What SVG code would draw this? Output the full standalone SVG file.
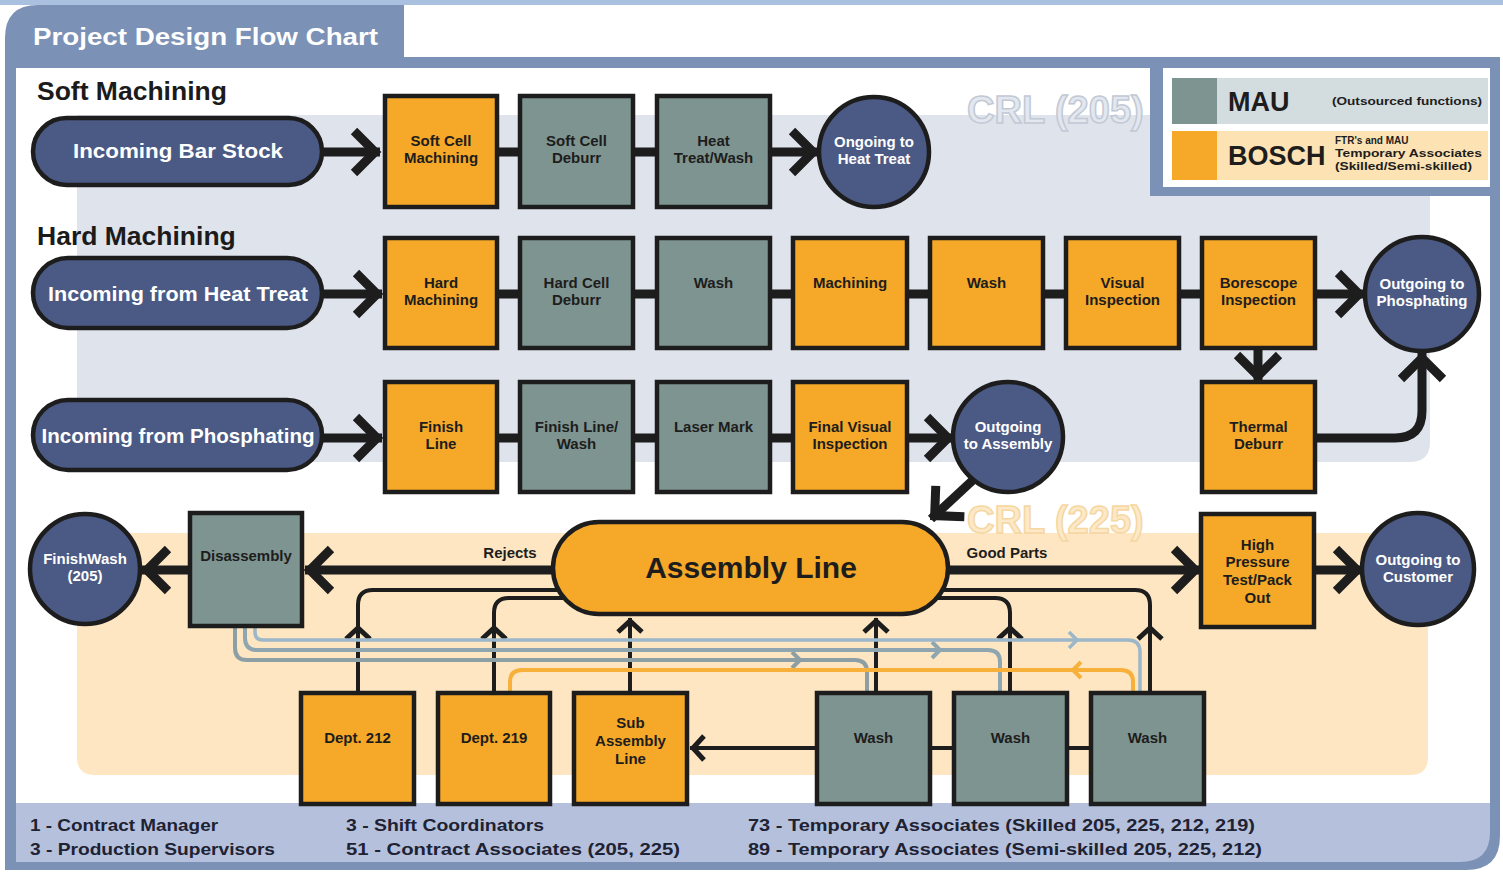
<svg xmlns="http://www.w3.org/2000/svg" width="1503" height="872" viewBox="0 0 1503 872">
<defs>
<style>
.box{stroke:#1d1d1d;stroke-width:4.5}
.or{fill:#f6a828}
.gr{fill:#7e9490}
.nv{fill:#4b5a84;stroke:#1d1d1d;stroke-width:4.5}
text{font-family:"Liberation Sans",Arial,sans-serif;font-weight:bold}
.bt{font-size:15px;fill:#1d1d1d;text-anchor:middle}
.wt{font-size:15px;fill:#ffffff;text-anchor:middle}
.pt{font-size:21px;fill:#ffffff;text-anchor:middle}
.hd{font-size:26.5px;fill:#1b1b1b}
.thick{fill:none;stroke:#1d1d1d;stroke-width:9}
.thin{fill:none;stroke:#1d1d1d;stroke-width:4}
.bA{fill:none;stroke:#8c9fa5;stroke-width:4}
.bB{fill:none;stroke:#8fa6b1;stroke-width:4}
.bC{fill:none;stroke:#9cb7c9;stroke-width:3.5}
.org{fill:none;stroke:#f7b03a;stroke-width:4}
.ft{font-size:17px;fill:#1e2232}
.lg{font-size:10px;fill:#1d1d1d}
</style>
<marker id="aB" markerUnits="userSpaceOnUse" orient="auto" overflow="visible" markerWidth="10" markerHeight="10" refX="0" refY="0">
<path d="M-26,-21 L-5,0 L-26,21" fill="none" stroke="#1d1d1d" stroke-width="9"/>
</marker>
<marker id="aS" markerUnits="userSpaceOnUse" orient="auto" overflow="visible" markerWidth="10" markerHeight="10" refX="0" refY="0">
<path d="M-14,-12 L-3,0 L-14,12" fill="none" stroke="#1d1d1d" stroke-width="5"/>
</marker>
</defs>

<g id="frame">
<rect x="0" y="0" width="1503" height="872" fill="#ffffff"/>
<rect x="0" y="0" width="1503" height="5" fill="#a9c0df"/>
<path d="M5,38 Q5,5 38,5 H404 V57 H1500 V836 Q1500,870 1466,870 H5 Z" fill="#7b92b6"/>
<rect x="16" y="68" width="1474" height="735" fill="#ffffff"/>
<path d="M16,803 H1490 V832 Q1490,862 1460,862 H16 Z" fill="#b5c0dc"/>
<text x="33" y="45" font-size="24" fill="#ffffff" textLength="345" lengthAdjust="spacingAndGlyphs">Project Design Flow Chart</text>
</g>

<g id="regions">
<path d="M77,115 H1430 V442 Q1430,462 1410,462 H77 Z" fill="#dfe3ec"/>
<path d="M77,533 H1428 V757 Q1428,775 1410,775 H95 Q77,775 77,757 Z" fill="#fde6c1"/>
<text x="967" y="123" font-size="38" fill="#e3e7ef" stroke="#c2c9d5" stroke-width="1.5">CRL (205)</text>
<text x="967" y="533" font-size="38" fill="#fde9c8" stroke="#f5d7a2" stroke-width="1.5">CRL (225)</text>
<text class="hd" x="37" y="100">Soft Machining</text>
<text class="hd" x="37" y="245">Hard Machining</text>
</g>

<g id="connectors">
<path class="thick" d="M322,152 H380" marker-end="url(#aB)"/>
<path class="thick" d="M497,152 H520 M633,152 H657"/>
<path class="thick" d="M770,152 H818" marker-end="url(#aB)"/>
<path class="thick" d="M322,294 H382" marker-end="url(#aB)"/>
<path class="thick" d="M497,294 H520 M633,294 H657 M770,294 H793 M907,294 H930 M1043,294 H1066 M1179,294 H1202"/>
<path class="thick" d="M1315,294 H1364" marker-end="url(#aB)"/>
<path class="thick" d="M322,438 H382" marker-end="url(#aB)"/>
<path class="thick" d="M497,438 H520 M633,438 H657 M770,438 H793"/>
<path class="thick" d="M907,438 H953" marker-end="url(#aB)"/>
<path class="thick" d="M1258,348 V381" marker-end="url(#aB)"/>
<path class="thick" d="M1315,438 H1395 Q1422,438 1422,411 V353" marker-end="url(#aB)"/>
<path class="thick" d="M973,480 L931,519" marker-end="url(#aB)"/>
<path class="thick" d="M555,570 H305" marker-end="url(#aB)"/>
<path class="thick" d="M190,570 H142" marker-end="url(#aB)"/>
<path class="thick" d="M946,570 H1200" marker-end="url(#aB)"/>
<path class="thick" d="M1314,570 H1362" marker-end="url(#aB)"/>

<path class="thin" d="M358,693 V625" marker-end="url(#aS)"/>
<path class="thin" d="M358,627 V605 Q358,590 373,590 H562"/>
<path class="thin" d="M494,693 V625" marker-end="url(#aS)"/>
<path class="thin" d="M494,627 V613 Q494,598 509,598 H567"/>
<path class="thin" d="M630,693 V618" marker-end="url(#aS)"/>
<path class="thin" d="M876,693 V618" marker-end="url(#aS)"/>
<path class="thin" d="M1010,693 V625" marker-end="url(#aS)"/>
<path class="thin" d="M1010,627 V613 Q1010,598 995,598 H935"/>
<path class="thin" d="M1150,693 V625" marker-end="url(#aS)"/>
<path class="thin" d="M1150,627 V605 Q1150,590 1135,590 H940"/>
<path class="thin" d="M820,748 H690" marker-end="url(#aS)"/>
<path class="thin" stroke-width="5" d="M930,748 H954 M1067,748 H1091"/>

<path class="bA" d="M235,627 V648 Q235,660 247,660 H855 Q867,660 867,672 V693"/>
<path class="bA" d="M792,652 L800,660 L792,668"/>
<path class="bB" d="M245,627 V638 Q245,650 257,650 H988 Q1000,650 1000,662 V693"/>
<path class="bB" d="M932,642 L940,650 L932,658"/>
<path class="bC" d="M255,627 V632 Q255,640 263,640 H1128 Q1140,640 1140,652 V693"/>
<path class="bC" d="M1069,632 L1077,640 L1069,648"/>
<path class="org" d="M1133,693 V682 Q1133,670 1121,670 H522 Q510,670 510,682 V693"/>
<path class="org" d="M1081,662 L1073,670 L1081,678"/>
</g>

<g id="n-bar-stock"><rect class="nv" x="33" y="118" width="289" height="67" rx="33.5"/><text class="pt" x="178" y="158" textLength="210" lengthAdjust="spacingAndGlyphs">Incoming Bar Stock</text></g>
<g id="n-soft-cell-machining"><rect class="box or" x="385" y="96" width="112" height="111"/><text class="bt" x="441" y="146">Soft Cell</text><text class="bt" x="441" y="163">Machining</text></g>
<g id="n-soft-cell-deburr"><rect class="box gr" x="520" y="96" width="113" height="111"/><text class="bt" x="576.5" y="146">Soft Cell</text><text class="bt" x="576.5" y="163">Deburr</text></g>
<g id="n-heat-treat-wash"><rect class="box gr" x="657" y="96" width="113" height="111"/><text class="bt" x="713.5" y="146">Heat</text><text class="bt" x="713.5" y="163">Treat/Wash</text></g>
<g id="n-ongoing-heat-treat"><circle class="nv" cx="874" cy="152" r="55"/><text class="wt" x="874" y="147">Ongoing to</text><text class="wt" x="874" y="164">Heat Treat</text></g>

<g id="n-from-heat-treat"><rect class="nv" x="33" y="258" width="289" height="70" rx="35"/><text class="pt" x="178" y="301" textLength="260" lengthAdjust="spacingAndGlyphs">Incoming from Heat Treat</text></g>
<g id="n-hard-machining"><rect class="box or" x="385" y="238" width="112" height="110"/><text class="bt" x="441" y="288">Hard</text><text class="bt" x="441" y="305">Machining</text></g>
<g id="n-hard-cell-deburr"><rect class="box gr" x="520" y="238" width="113" height="110"/><text class="bt" x="576.5" y="288">Hard Cell</text><text class="bt" x="576.5" y="305">Deburr</text></g>
<g id="n-wash-1"><rect class="box gr" x="657" y="238" width="113" height="110"/><text class="bt" x="713.5" y="288">Wash</text></g>
<g id="n-machining"><rect class="box or" x="793" y="238" width="114" height="110"/><text class="bt" x="850" y="288">Machining</text></g>
<g id="n-wash-2"><rect class="box or" x="930" y="238" width="113" height="110"/><text class="bt" x="986.5" y="288">Wash</text></g>
<g id="n-visual-inspection"><rect class="box or" x="1066" y="238" width="113" height="110"/><text class="bt" x="1122.5" y="288">Visual</text><text class="bt" x="1122.5" y="305">Inspection</text></g>
<g id="n-borescope"><rect class="box or" x="1202" y="238" width="113" height="110"/><text class="bt" x="1258.5" y="288">Borescope</text><text class="bt" x="1258.5" y="305">Inspection</text></g>
<g id="n-outgoing-phosphating"><circle class="nv" cx="1422" cy="294" r="57"/><text class="wt" x="1422" y="289">Outgoing to</text><text class="wt" x="1422" y="306">Phosphating</text></g>

<g id="n-from-phosphating"><rect class="nv" x="33" y="400" width="289" height="70" rx="35"/><text class="pt" x="178" y="443" textLength="273" lengthAdjust="spacingAndGlyphs">Incoming from Phosphating</text></g>
<g id="n-finish-line"><rect class="box or" x="385" y="382" width="112" height="110"/><text class="bt" x="441" y="432">Finish</text><text class="bt" x="441" y="449">Line</text></g>
<g id="n-finish-line-wash"><rect class="box gr" x="520" y="382" width="113" height="110"/><text class="bt" x="576.5" y="432">Finish Line/</text><text class="bt" x="576.5" y="449">Wash</text></g>
<g id="n-laser-mark"><rect class="box gr" x="657" y="382" width="113" height="110"/><text class="bt" x="713.5" y="432">Laser Mark</text></g>
<g id="n-final-visual"><rect class="box or" x="793" y="382" width="114" height="110"/><text class="bt" x="850" y="432">Final Visual</text><text class="bt" x="850" y="449">Inspection</text></g>
<g id="n-outgoing-assembly"><circle class="nv" cx="1008" cy="437" r="55"/><text class="wt" x="1008" y="432">Outgoing</text><text class="wt" x="1008" y="449">to Assembly</text></g>
<g id="n-thermal-deburr"><rect class="box or" x="1202" y="382" width="113" height="110"/><text class="bt" x="1258.5" y="432">Thermal</text><text class="bt" x="1258.5" y="449">Deburr</text></g>

<g id="n-finishwash"><circle class="nv" cx="85" cy="569" r="55"/><text class="wt" x="85" y="564">FinishWash</text><text class="wt" x="85" y="581">(205)</text></g>
<g id="n-disassembly"><rect class="box gr" x="190" y="513" width="112" height="113"/><text class="bt" x="246" y="561">Disassembly</text></g>
<g id="n-assembly-line"><rect class="box or" x="553" y="522" width="395" height="92" rx="46"/><text x="751" y="578" font-size="30" fill="#1d1d1d" text-anchor="middle">Assembly Line</text></g>
<text class="bt" x="510" y="558">Rejects</text>
<text class="bt" x="1007" y="558">Good Parts</text>
<g id="n-hp-test"><rect class="box or" x="1201" y="514" width="113" height="113"/><text class="bt" x="1257.5" y="550">High</text><text class="bt" x="1257.5" y="567">Pressure</text><text class="bt" x="1257.5" y="585">Test/Pack</text><text class="bt" x="1257.5" y="603">Out</text></g>
<g id="n-outgoing-customer"><circle class="nv" cx="1418" cy="569" r="56"/><text class="wt" x="1418" y="565">Outgoing to</text><text class="wt" x="1418" y="582">Customer</text></g>

<g id="n-dept-212"><rect class="box or" x="301" y="693" width="113" height="111"/><text class="bt" x="357.5" y="743">Dept. 212</text></g>
<g id="n-dept-219"><rect class="box or" x="438" y="693" width="112" height="111"/><text class="bt" x="494" y="743">Dept. 219</text></g>
<g id="n-sub-assembly"><rect class="box or" x="574" y="693" width="113" height="111"/><text class="bt" x="630.5" y="728">Sub</text><text class="bt" x="630.5" y="746">Assembly</text><text class="bt" x="630.5" y="764">Line</text></g>
<g id="n-wash-a"><rect class="box gr" x="817" y="693" width="113" height="111"/><text class="bt" x="873.5" y="743">Wash</text></g>
<g id="n-wash-b"><rect class="box gr" x="954" y="693" width="113" height="111"/><text class="bt" x="1010.5" y="743">Wash</text></g>
<g id="n-wash-c"><rect class="box gr" x="1091" y="693" width="113" height="111"/><text class="bt" x="1147.5" y="743">Wash</text></g>

<g id="legend">
<rect x="1150" y="57" width="350" height="139" fill="#7b92b6"/>
<rect x="1163" y="68" width="327" height="119" fill="#ffffff"/>
<rect x="1172" y="78" width="316" height="46" fill="#d3dcdf"/>
<rect x="1172" y="78" width="45" height="46" fill="#7e9490"/>
<rect x="1172" y="131" width="316" height="49" fill="#fde3b3"/>
<rect x="1172" y="131" width="45" height="49" fill="#f6a828"/>
<text x="1228" y="111" font-size="27" fill="#1d1d1d">MAU</text>
<text class="lg" x="1332" y="105" textLength="150" lengthAdjust="spacingAndGlyphs">(Outsourced functions)</text>
<text x="1228" y="165" font-size="27" fill="#1d1d1d">BOSCH</text>
<text class="lg" x="1335" y="144">FTR's and MAU</text>
<text class="lg" x="1335" y="157" textLength="147" lengthAdjust="spacingAndGlyphs">Temporary Associates</text>
<text class="lg" x="1335" y="170" textLength="137" lengthAdjust="spacingAndGlyphs">(Skilled/Semi-skilled)</text>
</g>

<g id="staff">
<text class="ft" x="30" y="831" textLength="188" lengthAdjust="spacingAndGlyphs">1 - Contract Manager</text>
<text class="ft" x="30" y="855" textLength="245" lengthAdjust="spacingAndGlyphs">3 - Production Supervisors</text>
<text class="ft" x="346" y="831" textLength="198" lengthAdjust="spacingAndGlyphs">3 - Shift Coordinators</text>
<text class="ft" x="346" y="855" textLength="334" lengthAdjust="spacingAndGlyphs">51 - Contract Associates (205, 225)</text>
<text class="ft" x="748" y="831" textLength="507" lengthAdjust="spacingAndGlyphs">73 - Temporary Associates (Skilled 205, 225, 212, 219)</text>
<text class="ft" x="748" y="855" textLength="514" lengthAdjust="spacingAndGlyphs">89 - Temporary Associates (Semi-skilled 205, 225, 212)</text>
</g>
</svg>
